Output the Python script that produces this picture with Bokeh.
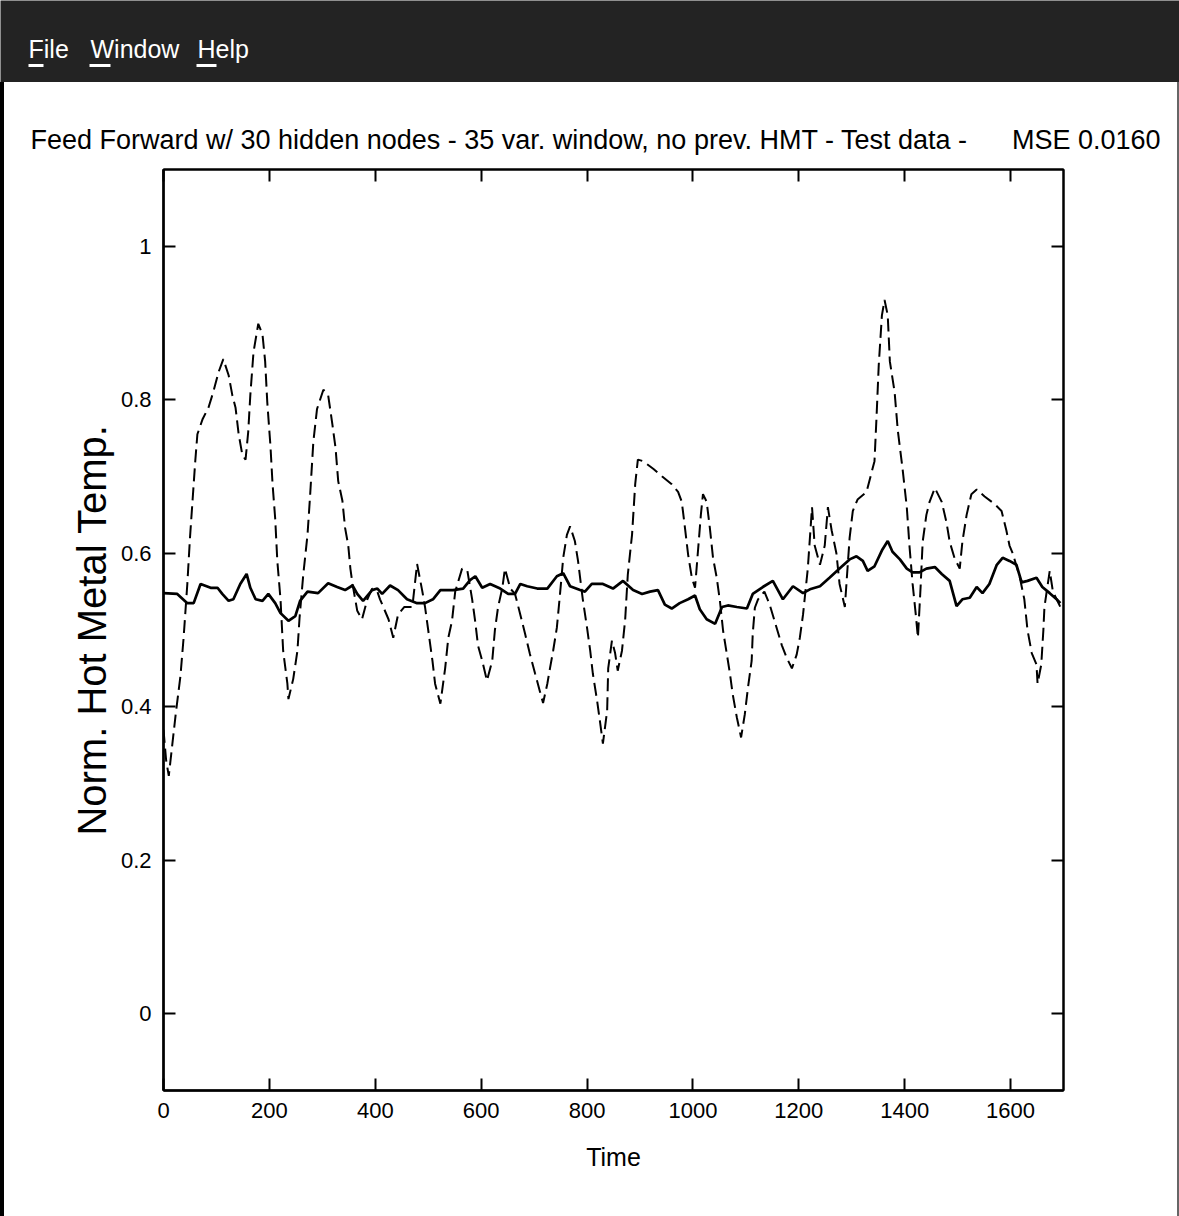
from bokeh.plotting import figure
from bokeh.layouts import column
from bokeh.models import FixedTicker, LinearAxis, CustomJSTickFormatter, Range1d
from bokeh.embed import file_html
from bokeh.resources import INLINE
from bokeh.core.properties import value

# ---------------- data ----------------
title_text = "Feed Forward w/ 30 hidden nodes - 35 var. window, no prev. HMT - Test data -\u00a0\u00a0\u00a0\u00a0\u00a0 MSE 0.0160"
menu_items = ["File", "Window", "Help"]
x_label = "Time"
y_label = "Norm. Hot Metal Temp."

x_ticks = [0, 200, 400, 600, 800, 1000, 1200, 1400, 1600]
y_ticks = [0, 0.2, 0.4, 0.6, 0.8, 1]
y_tick_labels = ["0", "0.2", "0.4", "0.6", "0.8", "1"]

# actual (dashed) series
t_actual = [0, 5, 10, 23, 32, 38, 45, 50, 55, 60, 64, 74, 85, 94, 104, 113, 123, 130, 136, 142,
            149, 155, 160, 164, 170, 179, 187, 192, 196, 202, 206, 211, 215, 221, 226, 234, 236,
            245, 253, 257, 264, 272, 277, 283, 290, 302, 311, 319, 325, 330, 338, 343, 349, 353,
            357, 366, 375, 385, 394, 404, 409, 425, 434, 443, 455, 470, 479, 489, 494, 500, 508,
            513, 523, 532, 538, 545, 551, 564, 574, 583, 589, 594, 602, 611, 621, 626, 632, 640,
            645, 655, 664, 674, 683, 692, 702, 711, 717, 725, 730, 736, 743, 749, 755, 762, 768,
            777, 783, 792, 800, 806, 811, 819, 825, 830, 838, 840, 847, 853, 858, 866, 872, 877,
            885, 891, 896, 906, 925, 942, 960, 972, 979, 985, 991, 998, 1004, 1009, 1015, 1019,
            1026, 1032, 1038, 1045, 1051, 1057, 1064, 1070, 1075, 1083, 1091, 1098, 1104, 1111,
            1113, 1117, 1123, 1135, 1145, 1155, 1168, 1177, 1187, 1196, 1202, 1208, 1217, 1225,
            1230, 1240, 1249, 1255, 1262, 1271, 1277, 1287, 1296, 1302, 1311, 1328, 1343, 1347,
            1351, 1357, 1362, 1368, 1372, 1381, 1387, 1396, 1404, 1409, 1415, 1421, 1425, 1430,
            1434, 1441, 1447, 1457, 1470, 1479, 1485, 1494, 1504, 1509, 1517, 1526, 1536, 1551,
            1570, 1583, 1592, 1598, 1604, 1617, 1626, 1632, 1640, 1649, 1651, 1658, 1662, 1664,
            1674, 1680, 1687, 1694]
y_actual = [0.37, 0.33, 0.31, 0.39, 0.44, 0.49, 0.56, 0.62, 0.67, 0.72, 0.755, 0.775, 0.79, 0.81,
            0.836, 0.853, 0.832, 0.806, 0.79, 0.755, 0.728, 0.722, 0.758, 0.806, 0.862, 0.899,
            0.885, 0.85, 0.797, 0.74, 0.69, 0.645, 0.59, 0.54, 0.473, 0.43, 0.41, 0.436, 0.473,
            0.516, 0.572, 0.624, 0.676, 0.745, 0.788, 0.813, 0.806, 0.768, 0.737, 0.694, 0.668,
            0.633, 0.61, 0.58, 0.56, 0.525, 0.514, 0.54, 0.554, 0.55, 0.54, 0.514, 0.49, 0.52,
            0.53, 0.53, 0.586, 0.55, 0.53, 0.50, 0.46, 0.43, 0.404, 0.45, 0.49, 0.512, 0.55, 0.58,
            0.577, 0.54, 0.51, 0.48, 0.46, 0.434, 0.46, 0.50, 0.53, 0.555, 0.58, 0.554, 0.547,
            0.52, 0.495, 0.469, 0.443, 0.42, 0.405, 0.43, 0.45, 0.473, 0.503, 0.547, 0.594, 0.624,
            0.635, 0.616, 0.59, 0.54, 0.503, 0.473, 0.443, 0.408, 0.378, 0.352, 0.395, 0.45,
            0.486, 0.47, 0.447, 0.473, 0.513, 0.572, 0.624, 0.69, 0.722, 0.72, 0.71, 0.70, 0.69,
            0.68, 0.667, 0.633, 0.598, 0.568, 0.555, 0.598, 0.65, 0.677, 0.667, 0.633, 0.594,
            0.568, 0.538, 0.499, 0.469, 0.443, 0.417, 0.386, 0.36, 0.39, 0.425, 0.46, 0.495,
            0.529, 0.54, 0.55, 0.533, 0.51, 0.48, 0.464, 0.45, 0.468, 0.49, 0.52, 0.58, 0.66,
            0.61, 0.585, 0.61, 0.66, 0.63, 0.60, 0.56, 0.53, 0.62, 0.655, 0.67, 0.68, 0.72, 0.78,
            0.845, 0.91, 0.93, 0.91, 0.85, 0.81, 0.76, 0.71, 0.66, 0.61, 0.56, 0.52, 0.49, 0.555,
            0.615, 0.65, 0.667, 0.685, 0.667, 0.64, 0.615, 0.594, 0.58, 0.615, 0.65, 0.677, 0.683,
            0.674, 0.664, 0.655, 0.63, 0.61, 0.60, 0.57, 0.54, 0.50, 0.47, 0.455, 0.43, 0.455,
            0.50, 0.53, 0.577, 0.55, 0.54, 0.53]

# predicted (solid) series
t_pred = [0, 26, 45, 57, 70, 89, 102, 111, 123, 132, 145, 157, 164, 174, 187, 198, 211, 221, 236,
          249, 258, 272, 292, 311, 328, 343, 357, 366, 377, 394, 404, 413, 428, 443, 460, 479,
          494, 509, 523, 547, 566, 579, 589, 602, 617, 636, 651, 664, 674, 687, 706, 725, 743,
          755, 768, 787, 796, 809, 830, 849, 868, 887, 904, 919, 934, 947, 960, 975, 991, 1004,
          1013, 1026, 1042, 1055, 1066, 1083, 1102, 1113, 1132, 1151, 1170, 1189, 1208, 1221,
          1240, 1258, 1277, 1296, 1309, 1321, 1330, 1343, 1358, 1368, 1377, 1391, 1404, 1415,
          1428, 1441, 1457, 1470, 1485, 1498, 1509, 1523, 1536, 1547, 1560, 1574, 1585, 1598,
          1611, 1621, 1632, 1649, 1660, 1674, 1687, 1694]
y_pred = [0.548, 0.547, 0.535, 0.535, 0.56, 0.555, 0.555, 0.547, 0.538, 0.54, 0.56, 0.573, 0.555,
          0.54, 0.538, 0.547, 0.535, 0.522, 0.512, 0.518, 0.538, 0.55, 0.548, 0.561, 0.556,
          0.552, 0.558, 0.547, 0.538, 0.552, 0.554, 0.547, 0.558, 0.552, 0.54, 0.535, 0.535,
          0.54, 0.552, 0.552, 0.554, 0.565, 0.57, 0.555, 0.56, 0.554, 0.547, 0.547, 0.56, 0.557,
          0.554, 0.554, 0.57, 0.574, 0.557, 0.552, 0.55, 0.56, 0.56, 0.554, 0.564, 0.552, 0.547,
          0.55, 0.552, 0.533, 0.528, 0.535, 0.54, 0.545, 0.527, 0.514, 0.508, 0.53, 0.532, 0.53,
          0.528, 0.547, 0.556, 0.564, 0.54, 0.557, 0.548, 0.553, 0.557, 0.568, 0.58, 0.592,
          0.596, 0.59, 0.577, 0.583, 0.605, 0.616, 0.602, 0.592, 0.58, 0.575, 0.575, 0.58, 0.582,
          0.573, 0.564, 0.531, 0.54, 0.542, 0.556, 0.548, 0.56, 0.585, 0.594, 0.59, 0.585, 0.562,
          0.564, 0.568, 0.556, 0.548, 0.54, 0.535]

FONT = "Liberation Sans"
W, H = 1179, 1216
BAR_H = 82

# ---------------- menu bar (fixed frame -> not aligned with the plot frame) ----------------
bar = figure(frame_width=W, frame_height=BAR_H, x_range=(0, W), y_range=(0, BAR_H),
             output_backend="svg", toolbar_location=None,
             x_axis_type=None, y_axis_type=None, min_border=0,
             background_fill_color="#232323", border_fill_color="#232323",
             outline_line_color=None)
if "frame_align" in bar.properties():
    bar.frame_align = False
bar.text(x=[28, 90, 197], y=[34, 34, 34], text=menu_items, text_color="white",
         text_font=value(FONT), text_font_size="25px", text_baseline="middle")
bar.segment(x0=[28, 89, 196], x1=[43, 110, 216], y0=[17, 17, 17], y1=[17, 17, 17],
            line_color="white", line_width=3)

# ---------------- main plot ----------------
ML, MR, MT, MB = 163, 116, 169 - BAR_H, 126
p = figure(width=W, height=H - BAR_H, x_range=Range1d(0, 1700), y_range=Range1d(-0.1, 1.1),
           output_backend="svg", toolbar_location=None,
           min_border_left=ML, min_border_right=MR, min_border_top=MT, min_border_bottom=MB,
           background_fill_color="white", border_fill_color="white", border_fill_alpha=0.0,
           outline_line_color="black", outline_line_width=2)
p.styles = {"background-color": "white",
            "box-shadow": "inset 5px 0 0 -1px black, inset -4px 0 0 -2px #666666"}
p.grid.visible = False

p.line(t_actual, y_actual, line_color="black", line_width=2, line_dash="13 6")
p.line(t_pred, y_pred, line_color="black", line_width=2.7)

p.title.text = title_text
p.title.text_font = FONT
p.title.text_font_size = "27px"
p.title.text_font_style = "normal"
p.title.text_color = "black"
p.title.align = "left"
p.title.offset = -133
p.title.standoff = 30

for ax in (p.xaxis[0], p.yaxis[0]):
    ax.major_tick_in = 12
    ax.major_tick_out = 0
    ax.minor_tick_line_color = None
    ax.axis_line_width = 2.5
    ax.major_tick_line_width = 2
    ax.major_label_text_font = FONT
    ax.major_label_text_font_size = "22px"
    ax.major_label_text_color = "black"
    ax.axis_label_text_font = FONT
    ax.axis_label_text_font_style = "normal"
    ax.axis_label_text_color = "black"

p.xaxis.ticker = FixedTicker(ticks=x_ticks)
p.xaxis.major_label_standoff = 12
p.xaxis.axis_label = x_label
p.xaxis.axis_label_text_font_size = "25px"
p.xaxis.axis_label_standoff = 22

p.yaxis.ticker = FixedTicker(ticks=y_ticks)
p.yaxis.major_label_overrides = {t: l for t, l in zip(y_ticks, y_tick_labels)}
p.yaxis.major_label_standoff = 12
p.yaxis.axis_label = y_label
p.yaxis.axis_label_text_font_size = "40px"
p.yaxis.axis_label_standoff = 4

blank = CustomJSTickFormatter(code="return ''")
top_ax = LinearAxis(ticker=FixedTicker(ticks=x_ticks), formatter=blank,
                    major_tick_in=12, major_tick_out=0, minor_tick_line_color=None,
                    axis_line_width=2, major_tick_line_width=2)
right_ax = LinearAxis(ticker=FixedTicker(ticks=y_ticks), formatter=blank,
                      major_tick_in=12, major_tick_out=0, minor_tick_line_color=None,
                      axis_line_width=2, major_tick_line_width=2)
p.add_layout(top_ax, "above")
p.add_layout(right_ax, "right")

layout = column(bar, p, spacing=0)
open("out.html", "w").write(file_html(layout, INLINE))
